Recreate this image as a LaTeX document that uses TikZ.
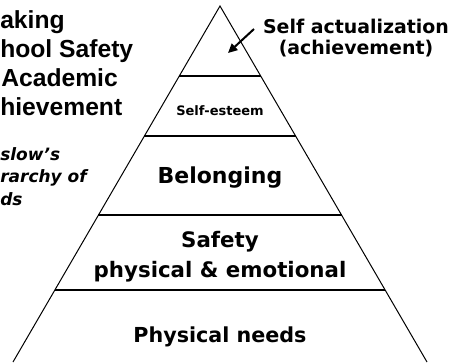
\documentclass[tikz,border=0pt]{standalone}
\usepackage{fontspec}
\setmainfont{DejaVu Sans}
\newfontfamily\arialfont{Liberation Sans}
\usetikzlibrary{arrows.meta,calc}
\begin{document}
\begin{tikzpicture}[x=0.75pt,y=-0.75pt,
    tier/.style={line width=2pt},
    lbl/.style={anchor=base, inner sep=0pt},
    side/.style={anchor=base west, inner sep=0pt, font=\arialfont\bfseries\fontsize{18.5}{20}\selectfont},
    note/.style={anchor=base west, inner sep=0pt, font=\bfseries\itshape\fontsize{12.75}{14}\selectfont}]
    \useasboundingbox (0,0) rectangle (456,362);
    \coordinate (top) at (220,6);
    \coordinate (bl) at (13,362);
    \coordinate (br) at (427,362);
    \draw[line width=0.75pt] (bl) -- (top) -- (br);
    \foreach \t in {0.1966,0.3652,0.5871,0.7978}
      \draw[tier] ($(top)!\t!(bl)$) -- ($(top)!\t!(br)$);

    % pyramid labels
    \node[lbl, font=\bfseries\fontsize{9.75}{12}\selectfont] at (220,115) (esteem) {Self-esteem};
    \node[lbl, font=\bfseries\fontsize{16.5}{20}\selectfont] at (220,183) (belong) {Belonging};
    \node[lbl, font=\bfseries\fontsize{16}{18}\selectfont] at (220,247) (safety) {Safety};
    \node[lbl, font=\bfseries\fontsize{16}{18}\selectfont] at (220,277) (emotion) {physical \& emotional};
    \node[lbl, font=\bfseries\fontsize{15.5}{18}\selectfont] at (220,342) (needs) {Physical needs};

    % top label with arrow
    \node[lbl, font=\bfseries\fontsize{14.2}{15}\selectfont] at (356,33) (actual) {Self actualization};
    \node[lbl, font=\bfseries\fontsize{14.2}{15}\selectfont] at (356,54) (achieve) {(achievement)};
    \coordinate (tail) at (254,29);
    \coordinate (tip) at (228,53);
    \draw[-{Triangle[length=7pt,width=6.5pt]}, line width=1.5pt] (tail) -- (tip);

    % side title
    \node[side] at (0,28) (t1) {aking};
    \node[side] at (0,57) (t2) {hool Safety};
    \node[side] at (1,86) (t3) {Academic};
    \node[side] at (0,115) (t4) {hievement};
    \node[note] at (0,160) (m1) {slow’s};
    \node[note] at (0,182) (m2) {rarchy of};
    \node[note] at (0,205) (m3) {ds};
  \end{tikzpicture}
\end{document}
